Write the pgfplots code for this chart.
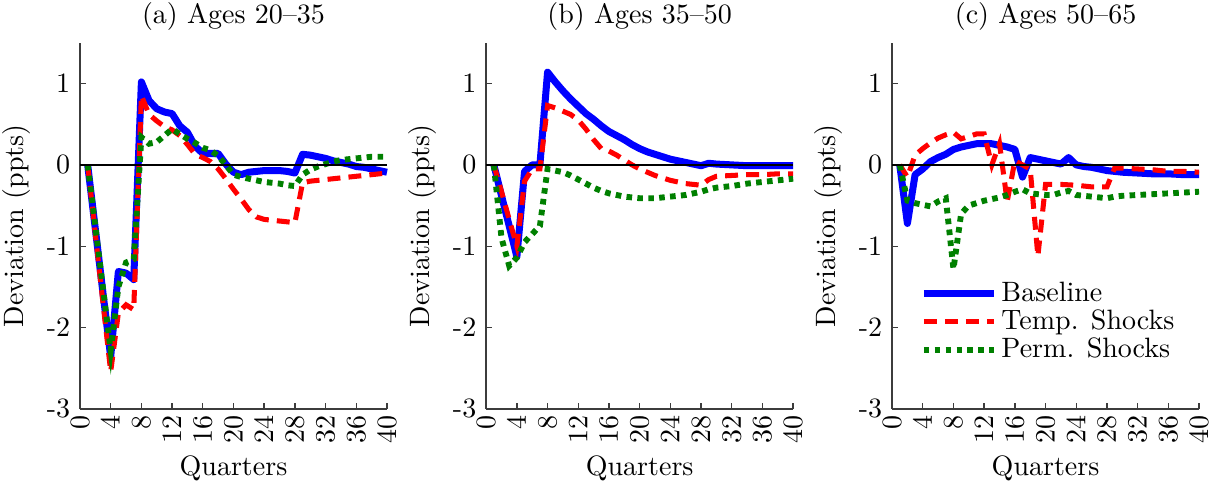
\documentclass[border=0pt]{standalone}
\usepackage{pgfplots}
\pgfplotsset{compat=1.18}
\definecolor{axgray}{RGB}{60,60,60}
\definecolor{mgreen}{RGB}{0,128,0}
\pgfplotsset{
  myax/.style={
    scale only axis, width=109.6pt, height=130.7pt,
    xmin=0, xmax=40, ymin=-3, ymax=1.5,
    xtick={0,4,...,40}, ytick={-3,-2,-1,0,1},
    yticklabels={-3,-2,-1,0,1},
    xticklabel style={rotate=90, anchor=east, inner sep=2pt},
    axis x line*=bottom, axis y line*=left,
    axis line style={draw=axgray, line width=0.5pt, -},
    tick align=inside, major tick length=2pt,
    every tick/.style={draw=axgray, line width=0.5pt},
    xlabel={Quarters}, ylabel={Deviation (ppts)},
    xlabel style={yshift=1pt},
    ylabel style={yshift=-1pt},
    title style={yshift=-5pt},
    clip=false,
  },
  bl/.style={blue, line width=2.5pt, line join=round},
  rd/.style={red, line width=1.8pt, dash pattern=on 4.6pt off 2.9pt},
  gr/.style={mgreen, line width=2.1pt, dash pattern=on 2pt off 1.9pt},
  zl/.style={black, line width=0.8pt, forget plot},
}
\begin{document}
\begin{tikzpicture}
% ---------------- Panel (a)
\begin{axis}[myax, at={(0pt,0pt)}, title={(a) Ages 20--35}]
\addplot[bl] coordinates {(1,0) (2,-0.79) (3,-1.58) (4,-2.36) (5,-1.31) (6,-1.33) (7,-1.41) (8,1.02) (9,0.79) (10,0.69) (11,0.65) (12,0.63) (13,0.48) (14,0.40) (15,0.23) (16,0.14) (17,0.14) (18,0.14) (19,0.01) (20,-0.09) (21,-0.12) (22,-0.09) (23,-0.08) (24,-0.07) (25,-0.07) (26,-0.07) (27,-0.08) (28,-0.10) (29,0.13) (30,0.12) (31,0.10) (32,0.08) (33,0.05) (34,0.03) (35,0.01) (36,-0.02) (37,-0.03) (38,-0.05) (39,-0.07) (40,-0.09)};
\addplot[rd] coordinates {(1,0) (2,-0.85) (3,-1.7) (4,-2.54) (5,-1.82) (6,-1.72) (7,-1.78) (8,0.85) (9,0.62) (10,0.54) (11,0.47) (12,0.43) (13,0.36) (14,0.25) (15,0.13) (16,0.09) (17,0.04) (18,-0.05) (19,-0.17) (20,-0.30) (21,-0.42) (22,-0.55) (23,-0.64) (24,-0.67) (25,-0.68) (26,-0.69) (27,-0.70) (28,-0.71) (29,-0.22) (30,-0.20) (31,-0.19) (32,-0.18) (34,-0.16) (36,-0.14) (38,-0.12) (40,-0.10)};
\addplot[gr] coordinates {(1,0) (2,-0.76) (3,-1.52) (4,-2.28) (5,-1.5) (6,-1.2) (7,-1.16) (8,0.34) (9,0.26) (10,0.28) (11,0.36) (12,0.44) (13,0.38) (14,0.32) (15,0.27) (16,0.21) (17,0.18) (18,0.11) (19,0.0) (20,-0.12) (21,-0.15) (22,-0.17) (23,-0.19) (24,-0.21) (25,-0.22) (26,-0.23) (27,-0.25) (28,-0.26) (29,-0.12) (30,-0.06) (31,-0.02) (32,0.01) (33,0.04) (34,0.06) (35,0.07) (36,0.08) (37,0.09) (38,0.10) (39,0.10) (40,0.10)};
\addplot[zl] coordinates {(0,0) (40,0)};
\end{axis}
% ---------------- Panel (b)
\begin{axis}[myax, at={(145.0pt,0pt)}, title={(b) Ages 35--50}]
\addplot[bl] coordinates {(1,0) (2,-0.38) (3,-0.75) (4,-1.13) (5,-0.08) (6,0.0) (7,0.0) (8,1.14) (9,1.02) (10,0.91) (11,0.81) (12,0.72) (13,0.63) (14,0.56) (15,0.48) (16,0.41) (17,0.36) (18,0.31) (19,0.25) (20,0.20) (21,0.16) (22,0.13) (23,0.10) (24,0.07) (25,0.05) (26,0.03) (27,0.01) (28,-0.01) (29,0.02) (30,0.01) (32,0.0) (34,-0.01) (36,-0.01) (38,-0.01) (40,-0.01)};
\addplot[rd] coordinates {(1,0) (2,-0.33) (3,-0.67) (4,-1.0) (5,-0.2) (6,-0.05) (7,-0.05) (8,0.73) (9,0.70) (10,0.66) (11,0.62) (12,0.55) (13,0.44) (14,0.31) (15,0.20) (16,0.17) (17,0.12) (18,0.06) (19,0.0) (20,-0.05) (21,-0.09) (22,-0.13) (23,-0.16) (24,-0.19) (25,-0.21) (26,-0.23) (27,-0.24) (28,-0.25) (29,-0.18) (30,-0.14) (32,-0.13) (34,-0.12) (36,-0.12) (38,-0.11) (40,-0.11)};
\addplot[gr] coordinates {(1,0) (2,-0.9) (3,-1.24) (4,-1.14) (5,-0.95) (6,-0.85) (7,-0.75) (8,-0.05) (9,-0.07) (10,-0.09) (11,-0.13) (12,-0.18) (13,-0.23) (14,-0.28) (15,-0.32) (16,-0.35) (17,-0.37) (18,-0.39) (19,-0.40) (20,-0.41) (21,-0.41) (22,-0.41) (23,-0.40) (24,-0.39) (25,-0.38) (26,-0.37) (27,-0.35) (28,-0.33) (29,-0.30) (30,-0.28) (32,-0.26) (34,-0.23) (36,-0.21) (38,-0.19) (40,-0.17)};
\addplot[zl] coordinates {(0,0) (40,0)};
\end{axis}
% ---------------- Panel (c)
\begin{axis}[myax, at={(289.9pt,0pt)}, title={(c) Ages 50--65},
  legend style={at={(0.09,0.36)}, anchor=north west, draw=none, fill=none,
    row sep=-1.5pt, inner sep=0pt, font=\normalsize,
    nodes={inner sep=1.5pt}},
  legend cell align=left,
  legend image code/.code={\draw[#1, line cap=butt] plot coordinates {(0pt,0pt) (25pt,0pt)};}]
\addplot[bl] coordinates {(1,0) (2,-0.72) (3,-0.12) (4,-0.05) (5,0.04) (6,0.09) (7,0.13) (8,0.19) (9,0.22) (10,0.24) (11,0.26) (12,0.26) (13,0.26) (14,0.24) (15,0.22) (16,0.19) (17,-0.15) (18,0.09) (19,0.07) (20,0.05) (21,0.03) (22,0.01) (23,0.09) (24,0.0) (25,-0.02) (26,-0.03) (27,-0.05) (28,-0.07) (29,-0.08) (30,-0.09) (32,-0.10) (34,-0.11) (36,-0.11) (38,-0.12) (40,-0.12)};
\addlegendentry{Baseline}
\addplot[rd] coordinates {(1,0) (2,-0.15) (3,0.12) (4,0.20) (5,0.27) (6,0.33) (7,0.37) (8,0.40) (9,0.32) (10,0.35) (11,0.38) (12,0.38) (13,0.0) (14,0.26) (15,-0.45) (16,0.05) (17,0.0) (18,-0.05) (19,-1.12) (20,-0.24) (21,-0.24) (22,-0.24) (24,-0.25) (26,-0.27) (28,-0.27) (29,-0.04) (30,-0.04) (32,-0.05) (34,-0.06) (36,-0.08) (38,-0.08) (40,-0.09)};
\addlegendentry{Temp. Shocks}
\addplot[gr] coordinates {(1,0) (2,-0.44) (3,-0.47) (4,-0.49) (5,-0.51) (6,-0.45) (7,-0.41) (8,-1.28) (9,-0.60) (10,-0.50) (11,-0.47) (12,-0.44) (13,-0.42) (14,-0.40) (15,-0.37) (16,-0.33) (17,-0.30) (18,-0.35) (19,-0.36) (20,-0.37) (21,-0.37) (22,-0.34) (23,-0.32) (24,-0.37) (25,-0.38) (26,-0.39) (27,-0.40) (28,-0.41) (29,-0.39) (30,-0.38) (32,-0.37) (34,-0.36) (36,-0.35) (38,-0.34) (40,-0.33)};
\addlegendentry{Perm. Shocks}
\addplot[zl] coordinates {(0,0) (40,0)};
\end{axis}
\pgfresetboundingbox
\path[use as bounding box] (-28.56pt,-26.8pt) rectangle (405.9pt,146.0pt);
\end{tikzpicture}
\end{document}
